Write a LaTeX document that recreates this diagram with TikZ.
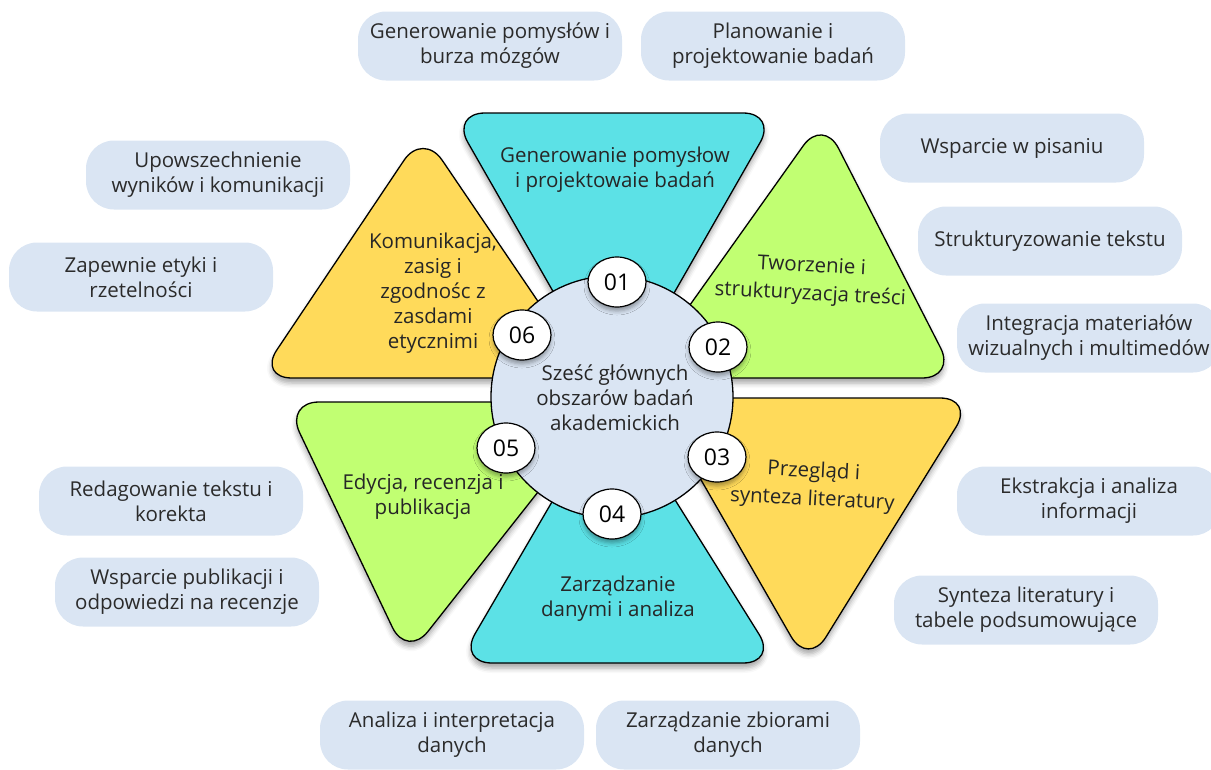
\documentclass[tikz,border=0pt]{standalone}
\usepackage{fontspec}
\setmainfont{Open Sans}
\usetikzlibrary{shapes.geometric,shadows.blur}

\definecolor{petalcyan}{HTML}{5CE1E6}
\definecolor{petalgreen}{HTML}{C1FF72}
\definecolor{petalyellow}{HTML}{FFDA5A}
\definecolor{topicblue}{HTML}{DAE5F3}
\definecolor{topictext}{HTML}{2B2B2B}

\tikzset{
  petal/.style={draw=black, line width=1.3pt, rounded corners=34pt,
    blur shadow={shadow xshift=0pt, shadow yshift=-5pt, shadow blur radius=5pt, shadow opacity=35}},
  petaltext/.style={align=center, text=black!85, font=\fontsize{20.5}{25}\selectfont},
  tilted/.style={petaltext, rotate=-3, font=\fontsize{20.5}{28}\selectfont},
  badge/.style={ellipse, draw=black, fill=white, line width=1.2pt, minimum width=58pt,
    minimum height=50pt, inner sep=0pt, font=\fontsize{23}{23}\selectfont,
    blur shadow={shadow xshift=0pt, shadow yshift=-4pt, shadow blur radius=4pt, shadow opacity=35}},
  topic/.style={fill=topicblue, rounded corners=28pt, minimum width=264pt, minimum height=69pt,
    inner sep=0pt, align=center, text=topictext, font=\fontsize{20.5}{25}\selectfont}
}

\begin{document}
\begin{tikzpicture}[x=1pt,y=-1pt]
        \useasboundingbox (0,0) rectangle (1211,769);
        % petals
        \draw[petal, fill=petalcyan] (451,113) -- (777,113) -- (614,398) -- cycle;
        \draw[petal, fill=petalgreen] (638,378) -- (823,118) -- (956,378) -- cycle;
        \draw[petal, fill=petalyellow] (654,398) -- (974,398) -- (808,666) -- cycle;
        \draw[petal, fill=petalcyan] (612,399) -- (777,663) -- (458,663) -- cycle;
        \draw[petal, fill=petalgreen] (285,402) -- (609,402) -- (407,658) -- cycle;
        \draw[petal, fill=petalyellow] (258,378) -- (423,132) -- (590,378) -- cycle;
        \node[petaltext] (ideas) at (615,170) {Generowanie pomysłow\\i projektowaie badań};
        \node[tilted] (writing) at (811,281) {Tworzenie i\\strukturyzacja treści};
        \node[tilted] (review) at (813,486) {Przegląd i\\synteza literatury};
        \node[petaltext] (data) at (618,599) {Zarządzanie\\danymi i analiza};
        \node[petaltext] (editing) at (423,497) {Edycja, recenzja i\\publikacja};
        \node[petaltext] (ethics) at (433,293) {Komunikacja,\\zasig i\\zgodnośc z\\zasdami\\etycznimi};
        % hub
        \draw[line width=1.3pt, fill=topicblue] (612,397) circle[radius=121pt];
        \node[petaltext] (hub) at (615,398) {Sześć głównych\\obszarów badań\\akademickich};
        \node[badge] (b1) at (617,282) {01};
        \node[badge] (b2) at (718,347) {02};
        \node[badge] (b3) at (717,457) {03};
        \node[badge] (b4) at (612,514) {04};
        \node[badge] (b5) at (506,448) {05};
        \node[badge] (b6) at (522,335) {06};
        % topics
        \node[topic] (t1) at (490,46) {Generowanie pomysłów i\\burza mózgów};
        \node[topic] (t2) at (773,46) {Planowanie i\\projektowanie badań};
        \node[topic] (t3) at (218,175) {Upowszechnienie\\wyników i komunikacji};
        \node[topic] (t4) at (1012,148) {Wsparcie w pisaniu};
        \node[topic] (t5) at (141,277) {Zapewnie etyki i\\rzetelności};
        \node[topic] (t6) at (1050,241) {Strukturyzowanie tekstu};
        \node[topic] (t7) at (1089,338) {Integracja materiałów\\wizualnych i multimedów};
        \node[topic] (t8) at (171,501) {Redagowanie tekstu i\\korekta};
        \node[topic] (t9) at (1089,501) {Ekstrakcja i analiza\\informacji};
        \node[topic] (t10) at (187,592) {Wsparcie publikacji i\\odpowiedzi na recenzje};
        \node[topic] (t11) at (1026,610) {Synteza literatury i\\tabele podsumowujące};
        \node[topic] (t12) at (452,735) {Analiza i interpretacja\\danych};
        \node[topic] (t13) at (728,735) {Zarządzanie zbiorami\\danych};
    \end{tikzpicture}
\end{document}
